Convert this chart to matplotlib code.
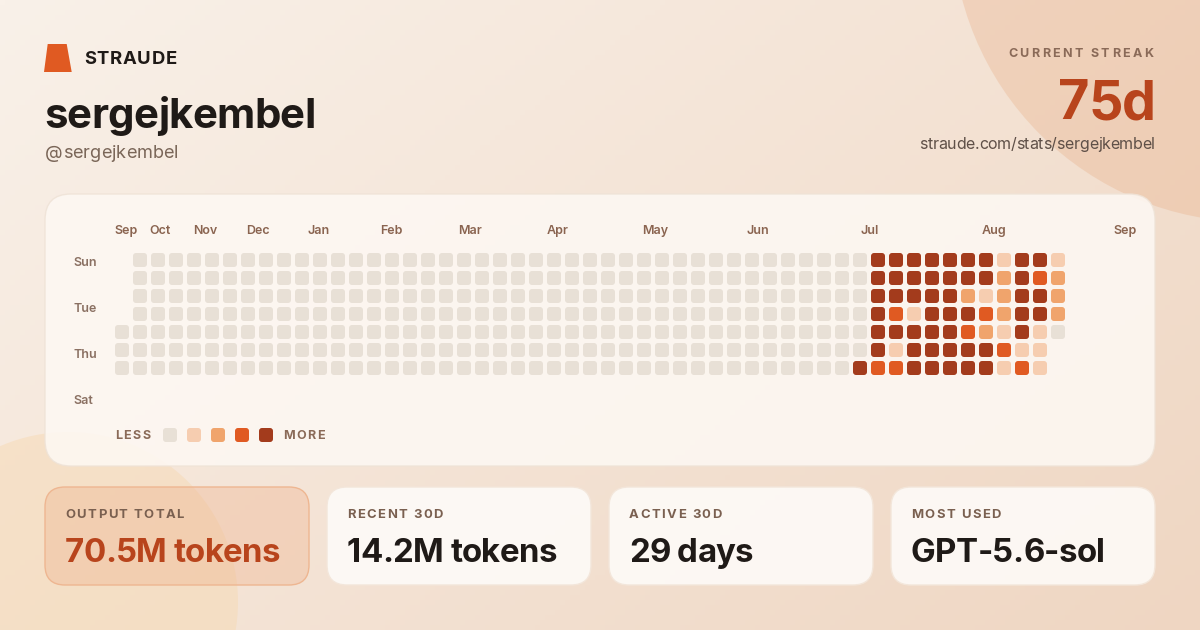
import numpy as np
import matplotlib

matplotlib.use("Agg")
import matplotlib.pyplot as plt
from matplotlib.patches import FancyBboxPatch, Circle, Polygon
from matplotlib.colors import to_rgb
from matplotlib.font_manager import FontProperties, findfont
from matplotlib.ft2font import FT2Font

W, H, DPI = 1200, 630, 100
FONT = "Inter"

# ---- data -----------------------------------------------------------------
brand = "STRAUDE"
user_name = "sergejkembel"
handle = "@sergejkembel"
streak_label = "CURRENT STREAK"
streak_value = "75d"
profile_url = "straude.com/stats/sergejkembel"

month_names = ["Sep", "Oct", "Nov", "Dec", "Jan", "Feb", "Mar",
               "Apr", "May", "Jun", "Jul", "Aug", "Sep"]
# month label centres, in week columns
month_weeks = [0.25, 2.1, 4.65, 7.55, 10.95, 14.95, 19.35,
               24.2, 29.6, 35.3, 41.55, 48.45, 55.7]
day_names = ["Sun", "Tue", "Thu", "Sat"]
day_rows = [0, 2, 4, 6]

# one string per week, Sun..Sat, activity level 0-4, "-" = no day
first_week = "----000"
quiet_weeks = ["0000000"] * 39
recent_weeks = [
    "0000000",
    "0000004",
    "4444443",
    "4443413",
    "4441444",
    "4444444",
    "4444444",
    "4424344",
    "4413244",
    "1222131",
    "4444413",
    "4344111",
    "12220--",
]
weekly_levels = [first_week] + quiet_weeks + recent_weeks
legend_levels = [0, 1, 2, 3, 4]

stat_labels = ["OUTPUT TOTAL", "RECENT 30D", "ACTIVE 30D", "MOST USED"]
stat_values = ["70.5M tokens", "14.2M tokens", "29 days", "GPT-5.6-sol"]

# ---- style ----------------------------------------------------------------
level_colors = ["#e8e0d6", "#f6cdb0", "#f0a46c", "#e05a22", "#a33b1c"]
ink = "#1f1a17"
accent = "#b8441c"


def pt(px):
    return px * 72 / DPI


def spaced_text(ax, x, y, s, size_px, tracking, ha="left", color=ink,
                weight="bold", zorder=10):
    # draw text glyph by glyph so letter spacing can be set (in px)
    fp = FontProperties(family=FONT, weight=weight)
    font = FT2Font(findfont(fp))
    font.set_size(pt(size_px), DPI)
    advs = [font.load_char(ord(c)).linearHoriAdvance / 65536 for c in s]
    total = sum(advs) + tracking * (len(s) - 1)
    cx = x - total if ha == "right" else x
    for c, a in zip(s, advs):
        ax.text(cx, y, c, fontsize=pt(size_px), fontfamily=FONT,
                fontweight=weight, color=color, ha="left", va="baseline",
                zorder=zorder)
        cx += a + tracking


fig = plt.figure(figsize=(W / DPI, H / DPI), dpi=DPI)
ax = fig.add_axes([0, 0, 1, 1])
ax.set_xlim(0, W)
ax.set_ylim(H, 0)
ax.axis("off")

# background gradient
gx, gy = np.meshgrid(np.linspace(0, 1, 240), np.linspace(0, 1, 126))
t = np.clip(0.6 * gx + 0.4 * gy, 0, 1)[..., None]
c0, c1 = np.array(to_rgb("#f9f1e9")), np.array(to_rgb("#efd6c2"))
ax.imshow(c0 * (1 - t) + c1 * t, extent=[0, W, H, 0], aspect="auto", zorder=0)

ax.add_patch(Circle((1252, -78), 300, facecolor="#e8ae86", alpha=0.33,
                    edgecolor="none", zorder=1))
ax.add_patch(Circle((68, 602), 170, facecolor="#f6d8b0", alpha=0.45,
                    edgecolor="none", zorder=1))

# header
ax.add_patch(Polygon([(44, 72), (71.7, 72), (66.7, 44), (47.7, 44)],
                     closed=True, facecolor="#e05a22", edgecolor="none", zorder=5))
spaced_text(ax, 84, 64, brand, 18.5, 0.7)
spaced_text(ax, 44, 128.3, user_name, 42, -0.7)
spaced_text(ax, 45, 158.3, handle, 18.2, 0, color="#7a6658", weight="normal")

spaced_text(ax, 1153, 56.7, streak_label, 12.5, 2.4, ha="right", color="#8a6a58")
spaced_text(ax, 1156, 119, streak_value, 54, -1.2, ha="right", color=accent)
spaced_text(ax, 1155, 149, profile_url, 16, -0.3, ha="right", color="#5f5048",
            weight="normal")

# heatmap panel
ax.add_patch(FancyBboxPatch((45, 194), 1110, 272,
                            boxstyle="round,pad=0,rounding_size=26",
                            facecolor="#fdf8f3", alpha=0.88,
                            edgecolor="#efe3d7", linewidth=1, zorder=3))

for name, row in zip(day_names, day_rows):
    ax.text(73, 266 + 23 * row, name, fontsize=pt(12.5), fontfamily=FONT,
            fontweight="semibold", color="#8a7062", va="baseline", zorder=10)

# legend
spaced_text(ax, 115, 439.3, "LESS", 12.5, 1.4, color="#8a6a58")
for i, lvl in enumerate(legend_levels):
    ax.add_patch(FancyBboxPatch((163 + 24 * i, 428), 14, 14,
                                boxstyle="round,pad=0,rounding_size=3",
                                facecolor=level_colors[lvl], edgecolor="none",
                                zorder=6))
spaced_text(ax, 283, 439.3, "MORE", 12.5, 1.4, color="#8a6a58")

# stat cards
card_w, card_gap = 264, 18
for i, (lab, val) in enumerate(zip(stat_labels, stat_values)):
    x0 = 45 + i * (card_w + card_gap)
    if i == 0:
        fc, ec, al, vc = "#efb28c", "#eeb691", 0.36, accent
    else:
        fc, ec, al, vc = "#fefbf8", "#f3e6da", 0.9, ink
    ax.add_patch(FancyBboxPatch((x0, 487), card_w, 98,
                                boxstyle="round,pad=0,rounding_size=20",
                                facecolor=fc, alpha=al, edgecolor="none", zorder=3))
    ax.add_patch(FancyBboxPatch((x0, 487), card_w, 98,
                                boxstyle="round,pad=0,rounding_size=20",
                                facecolor="none", edgecolor=ec, linewidth=1,
                                zorder=4))
    spaced_text(ax, x0 + 20, 518.3, lab, 13, 1.5, color="#7a6050")
    spaced_text(ax, x0 + 20, 561.7, val, 33, -0.6, color=vc)

# heatmap grid: one column per week, 18 px pitch
n_weeks = len(weekly_levels)
hx0, hy0 = 113, 251
hax = fig.add_axes([hx0 / W, 1 - (hy0 + 7 * 18) / H, n_weeks * 18 / W, 7 * 18 / H])
hax.set_xlim(-0.5, n_weeks - 0.5)
hax.set_ylim(6.5, -0.5)
hax.axis("off")
hax.patch.set_alpha(0)
cell = 14 / 18
for wk, col in enumerate(weekly_levels):
    for day, ch in enumerate(col):
        if ch == "-":
            continue
        hax.add_patch(FancyBboxPatch((wk - cell / 2, day - cell / 2), cell, cell,
                                     boxstyle="round,pad=0,rounding_size=0.17",
                                     facecolor=level_colors[int(ch)],
                                     edgecolor="none", zorder=5))
for name, wk in zip(month_names, month_weeks):
    hax.text(wk, -1.42, name, fontsize=pt(12.5), fontfamily=FONT,
             fontweight="semibold", color="#8a6450", ha="center",
             va="baseline", clip_on=False)

fig.savefig("out.png", dpi=DPI)
